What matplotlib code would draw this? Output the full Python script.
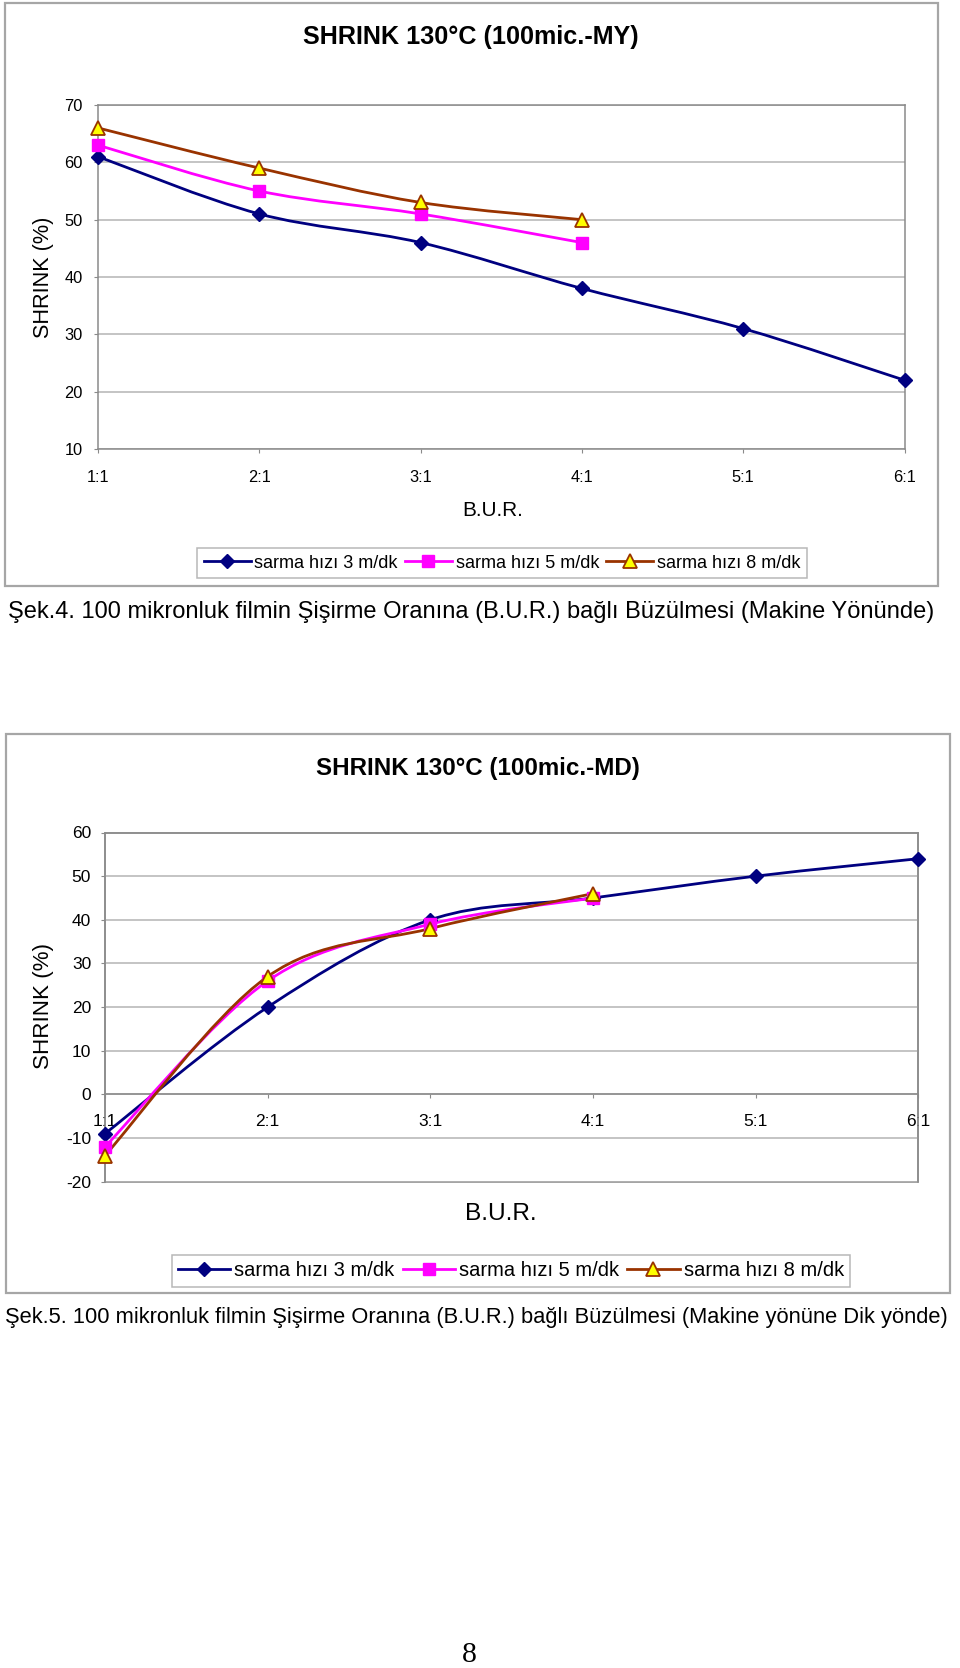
import numpy as np
import matplotlib
matplotlib.use('Agg')
import matplotlib.pyplot as plt
from matplotlib.path import Path
from matplotlib.patches import PathPatch, Rectangle
from matplotlib.lines import Line2D

# ---------------- data ----------------
categories = ['1:1', '2:1', '3:1', '4:1', '5:1', '6:1']
series_labels = ['sarma hızı 3 m/dk', 'sarma hızı 5 m/dk', 'sarma hızı 8 m/dk']

my_3 = [61, 51, 46, 38, 31, 22]
my_5 = [63, 55, 51, 46]
my_8 = [66, 59, 53, 50]

md_3 = [-9, 20, 40, 45, 50, 54]
md_5 = [-12, 26, 39, 45]
md_8 = [-14, 27, 38, 46]

my_yticks = [10, 20, 30, 40, 50, 60, 70]
md_yticks = [-20, -10, 0, 10, 20, 30, 40, 50, 60]

title_my = 'SHRINK 130°C (100mic.-MY)'
title_md = 'SHRINK 130°C (100mic.-MD)'
ylabel = 'SHRINK (%)'
xlabel = 'B.U.R.'
caption_4 = 'Şek.4. 100 mikronluk filmin Şişirme Oranına (B.U.R.) bağlı Büzülmesi (Makine Yönünde)'
caption_5 = 'Şek.5. 100 mikronluk filmin Şişirme Oranına (B.U.R.) bağlı Büzülmesi (Makine yönüne Dik yönde)'
page_no = '8'

# ---------------- style ----------------
plt.rcParams['font.family'] = ['Liberation Sans', 'DejaVu Sans']
plt.rcParams['axes.unicode_minus'] = False
W, H = 960, 1668
fig = plt.figure(figsize=(W / 100, H / 100), dpi=100)
fig.patch.set_facecolor('white')

AXIS_C = '#8a8a8a'
GRID_C = '#b4b4b4'
FRAME_C = '#a6a6a6'

styles = [
    dict(color='#000080', marker='D', mfc='#000080', mec='#000080', ms=7.5, mew=1),
    dict(color='#FF00FF', marker='s', mfc='#FF00FF', mec='#FF00FF', ms=8.5, mew=1),
    dict(color='#993300', marker='^', mfc='#FFFF00', mec='#993300', ms=9.5, mew=1.3),
]
LW = 2.0


def rect(x0, y0, x1, y1):
    return [x0 / W, 1 - y1 / H, (x1 - x0) / W, (y1 - y0) / H]


def smooth_path(xs, ys):
    P = np.column_stack([xs, ys]).astype(float)
    n = len(P)
    verts = [P[0]]
    codes = [Path.MOVETO]
    for i in range(n - 1):
        p0 = P[i - 1] if i > 0 else P[i]
        p3 = P[i + 2] if i + 2 < n else P[i + 1]
        c1 = P[i] + (P[i + 1] - p0) / 6.0
        c2 = P[i + 1] - (p3 - P[i]) / 6.0
        verts += [c1, c2, P[i + 1]]
        codes += [Path.CURVE4] * 3
    return Path(verts, codes)


def draw_chart(ax, series, yticks, zero_axis, xlab_pad, ylab_pad, ticksize):
    ax.set_xlim(0, len(categories) - 1)
    ax.set_ylim(yticks[0], yticks[-1])
    ax.set_xticks(range(len(categories)))
    ax.set_xticklabels(categories)
    ax.set_yticks(yticks)
    ax.yaxis.grid(True, color=GRID_C, lw=1.1)
    ax.set_axisbelow(True)
    for s in ax.spines.values():
        s.set_color(AXIS_C)
        s.set_linewidth(1.1)
    if zero_axis:
        ax.spines['bottom'].set_position(('data', 0))
        ax.add_patch(Rectangle((0, 0), 1, 1, transform=ax.transAxes, fill=False,
                               ec=AXIS_C, lw=1.1, clip_on=False, zorder=0.5))
    ax.tick_params(axis='x', direction='out', length=3, color=AXIS_C,
                   labelsize=ticksize, pad=xlab_pad)
    ax.tick_params(axis='y', direction='out', length=3, color=AXIS_C,
                   labelsize=ticksize, pad=ylab_pad)
    for vals, st in zip(series, styles):
        xs = np.arange(len(vals))
        ax.add_patch(PathPatch(smooth_path(xs, vals), fill=False, ec=st['color'],
                               lw=LW, transform=ax.transData, zorder=3, clip_on=False))
        ax.plot(xs, vals, linestyle='none', marker=st['marker'], ms=st['ms'],
                mfc=st['mfc'], mec=st['mec'], mew=st['mew'], zorder=4, clip_on=False)


def legend_handles():
    return [Line2D([], [], color=st['color'], lw=LW, marker=st['marker'],
                   ms=st['ms'], mfc=st['mfc'], mec=st['mec'], mew=st['mew'])
            for st in styles]


# ---------------- frames ----------------
fig.add_artist(Rectangle((5 / W, 1 - 586 / H), (938 - 5) / W, (586 - 3) / H,
                         transform=fig.transFigure, fill=False, ec=FRAME_C, lw=1.6))
fig.add_artist(Rectangle((6 / W, 1 - 1293 / H), (950 - 6) / W, (1293 - 734) / H,
                         transform=fig.transFigure, fill=False, ec=FRAME_C, lw=1.6))

# ---------------- chart 1 ----------------
ax1 = fig.add_axes(rect(98, 105, 904.5, 449))
draw_chart(ax1, [my_3, my_5, my_8], my_yticks, False, 12, 8, 11.8)

# ---------------- chart 2 ----------------
ax2 = fig.add_axes(rect(105, 832.5, 918.3, 1181.7))
draw_chart(ax2, [md_3, md_5, md_8], md_yticks, True, 11, 7, 12.5)

# ---------------- texts ----------------
fits = []


def ftext(x, y, s, target, ha='center', rot=0, weight='normal', family=None, dim='w'):
    kw = {}
    if family:
        kw['family'] = family
    t = fig.text(x / W, 1 - y / H, s, ha=ha, va='center', rotation=rot,
                 fontsize=14, fontweight=weight, **kw)
    fits.append((t, target, dim))
    return t


ftext(471, 37, title_my, 336, weight='bold')
ftext(478, 768, title_md, 324, weight='bold')
ftext(43, 277, ylabel, 122, rot=90, dim='h')
ftext(43, 1006, ylabel, 126, rot=90, dim='h')
ftext(493, 511, xlabel, 61)
ftext(501, 1214, xlabel, 72)
ftext(8.5, 612, caption_4, 931, ha='left')
ftext(5, 1317, caption_5, 950, ha='left')
ftext(469, 1655, page_no, 15, family=['Liberation Serif', 'DejaVu Serif'])

leg1 = fig.legend(legend_handles(), series_labels, loc='center',
                  bbox_to_anchor=(502 / W, 1 - 563 / H), ncol=3, frameon=True,
                  fancybox=False, edgecolor=FRAME_C, fontsize=13, handlelength=2.6,
                  handletextpad=0.2, columnspacing=0.4, borderpad=0.35)
leg1.get_frame().set_linewidth(1.1)
leg2 = fig.legend(legend_handles(), series_labels, loc='center',
                  bbox_to_anchor=(511 / W, 1 - 1271 / H), ncol=3, frameon=True,
                  fancybox=False, edgecolor=FRAME_C, fontsize=14.5, handlelength=2.6,
                  handletextpad=0.2, columnspacing=0.4, borderpad=0.3)
leg2.get_frame().set_linewidth(1.1)

fig.canvas.draw()
r = fig.canvas.get_renderer()
for t, target, dim in fits:
    bb = t.get_window_extent(r)
    size = bb.width if dim == 'w' else bb.height
    if size > 0:
        t.set_fontsize(t.get_fontsize() * target / size)

fig.savefig('out.png', dpi=100, facecolor='white')
